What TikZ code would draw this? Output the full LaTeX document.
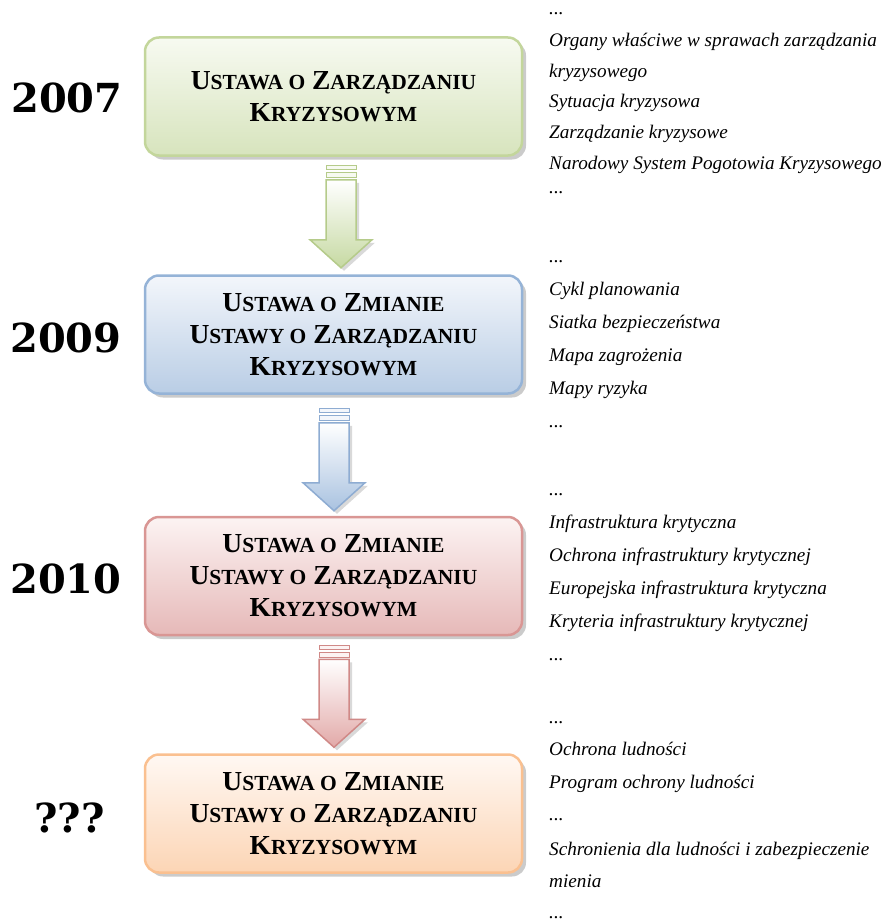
\documentclass[tikz,border=0pt]{standalone}
\usepackage{fontspec}
\setmainfont{Liberation Serif}
\newfontfamily\yearface{DejaVu Serif}
\usetikzlibrary{calc,shadows}

% box palettes: border, light top, saturated bottom
\definecolor{grnD}{HTML}{C3D69B}\definecolor{grnT}{HTML}{F7FAF1}\definecolor{grnB}{HTML}{D7E4BD}
\definecolor{bluD}{HTML}{95B3D7}\definecolor{bluT}{HTML}{F3F6FB}\definecolor{bluB}{HTML}{B9CDE5}
\definecolor{redD}{HTML}{D99694}\definecolor{redT}{HTML}{FCF3F3}\definecolor{redB}{HTML}{E6B9B8}
\definecolor{orgD}{HTML}{FAC090}\definecolor{orgT}{HTML}{FFF8F3}\definecolor{orgB}{HTML}{FCD5B5}
% arrow fills
\definecolor{grnA}{HTML}{C6D9A2}\definecolor{grnE}{HTML}{B5CB8A}
\definecolor{bluA}{HTML}{A9C2E0}\definecolor{bluE}{HTML}{8EACD2}
\definecolor{redA}{HTML}{E2A9A8}\definecolor{redE}{HTML}{D08987}

\newcommand\lawfont{\bfseries\fontsize{27.5}{32}\selectfont}
\newcommand\lsc[2]{#1{\fontsize{21.5}{32}\selectfont #2}}
\newcommand\yearfont{\yearface\bfseries\fontsize{40}{44}\selectfont}
\newcommand\itemfont{\itshape\fontsize{19.2}{24}\selectfont}

\tikzset{
  x=1pt, y=-1pt,
  lawbox/.style n args={3}{draw=#1, line width=2.5pt, rounded corners=14pt,
    top color=#2, bottom color=#3,
    minimum width=377pt, minimum height=118pt, inner sep=0pt, align=center,
    font=\lawfont,
    drop shadow={shadow xshift=4pt, shadow yshift=-4pt, fill=black!45, opacity=.45}},
  year/.style={anchor=base west, inner sep=0pt, font=\yearfont},
  item/.style={anchor=base west, inner sep=0pt, font=\itemfont},
  pics/downarrow/.style n args={3}{code={
    % soft shadow down and to the right
    \fill[black!50, opacity=.3] (-12,17) -- (18,17) -- (18,77) -- (34,77) -- (3,105) -- (-28,77) -- (-12,77) -- cycle;
    \draw[draw=#2, line width=1pt, fill=#3] (-15,0) rectangle (15,4);
    \draw[draw=#2, line width=1pt, fill=#3] (-15,7) rectangle (15,12);
    \shade[top color=white, bottom color=#1, draw=#2, line width=1.5pt, line join=miter]
      (-15,14) -- (15,14) -- (15,74) -- (31,74) -- (0,102) -- (-31,74) -- (-15,74) -- cycle;
  }},
}

\begin{document}
\begin{tikzpicture}
\useasboundingbox (0,0) rectangle (884,923);

% the four acts
\node[lawbox={grnD}{grnT}{grnB}] (b1) at (333.5,96.5)
  {\lsc{U}{STAWA O} \lsc{Z}{ARZĄDZANIU}\\\lsc{K}{RYZYSOWYM}};
\node[lawbox={bluD}{bluT}{bluB}] (b2) at (333.5,334.5)
  {\lsc{U}{STAWA O} \lsc{Z}{MIANIE}\\\lsc{U}{STAWY O} \lsc{Z}{ARZĄDZANIU}\\\lsc{K}{RYZYSOWYM}};
\node[lawbox={redD}{redT}{redB}] (b3) at (333.5,576)
  {\lsc{U}{STAWA O} \lsc{Z}{MIANIE}\\\lsc{U}{STAWY O} \lsc{Z}{ARZĄDZANIU}\\\lsc{K}{RYZYSOWYM}};
\node[lawbox={orgD}{orgT}{orgB}] (b4) at (333.5,813.5)
  {\lsc{U}{STAWA O} \lsc{Z}{MIANIE}\\\lsc{U}{STAWY O} \lsc{Z}{ARZĄDZANIU}\\\lsc{K}{RYZYSOWYM}};

% block arrows between the acts
\coordinate (a1) at ($(b1.south)+(7.5,9)$);
\coordinate (a2) at ($(b2.south)+(0.5,14)$);
\coordinate (a3) at ($(b3.south)+(0.5,9)$);
\pic at (a1) {downarrow={grnA}{grnE}{grnT}};
\pic at (a2) {downarrow={bluA}{bluE}{bluT}};
\pic at (a3) {downarrow={redA}{redE}{redT}};

% years
\node[year] (y1) at (11,113) {2007};
\node[year] (y2) at (10,352) {2009};
\node[year] (y3) at (10,593) {2010};
\node[year] (y4) at (34,832) {???};

% terms introduced by each act
\node[item] (t11) at (549,15)    {...};
\node[item] (t12) at (549,47)    {Organy właściwe w sprawach zarządzania};
\node[item] (t13) at (549,77.5)  {kryzysowego};
\node[item] (t14) at (549,108)   {Sytuacja kryzysowa};
\node[item] (t15) at (549,138.5) {Zarządzanie kryzysowe};
\node[item] (t16) at (549,169)   {Narodowy System Pogotowia Kryzysowego};
\node[item] (t17) at (549,193)   {...};

\node[item] (t21) at (549,262) {...};
\node[item] (t22) at (549,295) {Cykl planowania};
\node[item] (t23) at (549,328) {Siatka bezpieczeństwa};
\node[item] (t24) at (549,361) {Mapa zagrożenia};
\node[item] (t25) at (549,394) {Mapy ryzyka};
\node[item] (t26) at (549,427) {...};

\node[item] (t31) at (549,495) {...};
\node[item] (t32) at (549,528) {Infrastruktura krytyczna};
\node[item] (t33) at (549,561) {Ochrona infrastruktury krytycznej};
\node[item] (t34) at (549,594) {Europejska infrastruktura krytyczna};
\node[item] (t35) at (549,627) {Kryteria infrastruktury krytycznej};
\node[item] (t36) at (549,660) {...};

\node[item] (t41) at (549,723) {...};
\node[item] (t42) at (549,755) {Ochrona ludności};
\node[item] (t43) at (549,788) {Program ochrony ludności};
\node[item] (t44) at (549,820) {...};
\node[item] (t45) at (549,855) {Schronienia dla ludności i zabezpieczenie};
\node[item] (t46) at (549,887) {mienia};
\node[item] (t47) at (549,918) {...};
\end{tikzpicture}
\end{document}
